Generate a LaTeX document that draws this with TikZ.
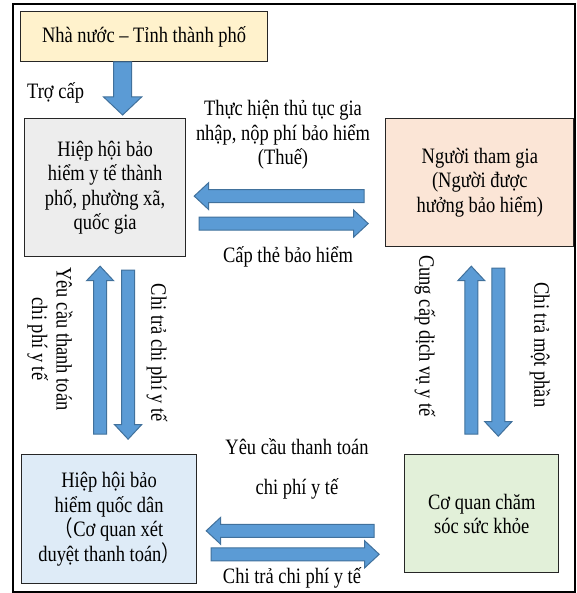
\documentclass[tikz,border=0pt]{standalone}
\usepackage{fontspec}
\setmainfont{Liberation Serif}[FakeStretch=0.84]
\newfontfamily\cjk{Noto Sans CJK SC}[FakeStretch=0.84]
\usepackage{xcolor}
\usetikzlibrary{positioning, calc}
\definecolor{arrowblue}{RGB}{91,155,213}
\definecolor{arrowedge}{RGB}{65,113,156}
\definecolor{stateyellow}{RGB}{255,242,204}
\definecolor{citygrey}{RGB}{237,237,237}
\definecolor{memberorange}{RGB}{251,229,214}
\definecolor{nationalblue}{RGB}{222,235,247}
\definecolor{caregreen}{RGB}{226,240,217}
\newcommand{\diagfont}{\fontsize{22pt}{24.5pt}\selectfont}
\tikzset{
    box/.style={rectangle, draw=black!85, line width=1.2pt, text centered, align=center, inner sep=0pt, font=\diagfont},
    note/.style={inner sep=0pt, align=center, font=\diagfont},
    blockarrow/.style n args={3}{fill=arrowblue, draw=arrowedge, line width=1pt, line join=miter,
        to path={($(\tikztotarget)!#3!(\tikztostart)$) coordinate (hb)
            ($(\tikztostart)!#1!90:(\tikztotarget)$)
            -- ($(hb)!#1!90:(\tikztotarget)$) -- ($(hb)!#2!90:(\tikztotarget)$)
            -- (\tikztotarget)
            -- ($(hb)!#2!-90:(\tikztotarget)$) -- ($(hb)!#1!-90:(\tikztotarget)$)
            -- ($(\tikztostart)!#1!-90:(\tikztotarget)$) -- cycle}},
    bigflow/.style={blockarrow={9pt}{19pt}{18pt}},
    flow/.style={blockarrow={6.5pt}{13.5pt}{14.5pt}}
}

\begin{document}
\begin{tikzpicture}[
    x=1pt, y=-1pt,
    city/.style={box, fill=citygrey, minimum width=161pt, minimum height=138pt},
    member/.style={box, fill=memberorange, minimum width=188pt, minimum height=128pt}
]
    \useasboundingbox[fill=white] (0,0) rectangle (576,593);
    % Frame
    \draw[line width=2pt] (13,4) rectangle (575,592);

    % Insurance associations and participants
    \node[city, anchor=north west] (city) at (24,118) {Hiệp hội bảo\\hiểm y tế thành\\phố, phường xã,\\quốc gia};
    \node[box, fill=stateyellow, minimum width=247pt, minimum height=50pt, above=56pt of city.north west, anchor=south west, xshift=-4pt] (state) {Nhà nước -- Tỉnh thành phố};
    \node[member, right=199pt of city.north east, anchor=north west] (member) {Người tham gia\\(Người được\\hưởng bảo hiểm)};
    \node[box, fill=nationalblue, minimum width=175pt, minimum height=129pt, below=197pt of city.south west, anchor=north west, xshift=-3pt] (national) {Hiệp hội bảo\\hiểm quốc dân\\{\cjk（}Cơ quan xét\\duyệt thanh toán{\cjk）}};
    \node[box, fill=caregreen, minimum width=154pt, minimum height=118pt, below=207pt of member.south west, anchor=north west, xshift=19pt] (care) {Cơ quan chăm\\sóc sức khỏe};

    % Flows
    \draw[bigflow] ([xshift=-21.5pt]state.south) to ([xshift=17.5pt, yshift=3pt]city.north);
    \draw[flow] ([xshift=-21pt, yshift=-13.5pt]member.west) to ([xshift=8pt, yshift=-8.5pt]city.east);
    \draw[flow] ([xshift=13pt, yshift=-36pt]city.east) to ([xshift=-17pt, yshift=-41pt]member.west);
    \draw[flow] ([xshift=-9pt, yshift=20pt]national.north) to ([xshift=-5pt, yshift=-9pt]city.south);
    \draw[flow] ([xshift=23pt, yshift=-13pt]city.south) to ([xshift=19pt, yshift=15pt]national.north);
    \draw[flow] ([xshift=-10.5pt, yshift=20pt]care.north) to ([xshift=-8.5pt, yshift=-19pt]member.south);
    \draw[flow] ([xshift=18.5pt, yshift=-21pt]member.south) to ([xshift=16.5pt, yshift=18pt]care.north);
    \draw[flow] ([xshift=-30pt, yshift=-17pt]care.west) to ([xshift=9pt, yshift=-11.5pt]national.east);
    \draw[flow] ([xshift=14pt, yshift=-35pt]national.east) to ([xshift=-25pt, yshift=-40.5pt]care.west);

    % Labels
    \node[note, anchor=west] (subsidy) at (27,93) {Trợ cấp};
    \node[note] (join) at (283,135) {Thực hiện thủ tục gia\\nhập, nộp phí bảo hiểm\\(Thuế)};
    \node[note] (card) at (288,257) {Cấp thẻ bảo hiểm};
    \node[note, rotate=-90] (claim) at (50,339) {Yêu cầu thanh toán\\chi phí y tế};
    \node[note, rotate=-90] (pay) at (157,353) {Chi trả chi phí y tế};
    \node[note, rotate=-90] (service) at (425,336) {Cung cấp dịch vụ y tế};
    \node[note, rotate=-90] (copay) at (540,345) {Chi trả một phần};
    \node[note] (claim2) at (297,469) {Yêu cầu thanh toán\\[15.5pt]chi phí y tế};
    \node[note] (pay2) at (292,578) {Chi trả chi phí y tế};
\end{tikzpicture}
\end{document}
